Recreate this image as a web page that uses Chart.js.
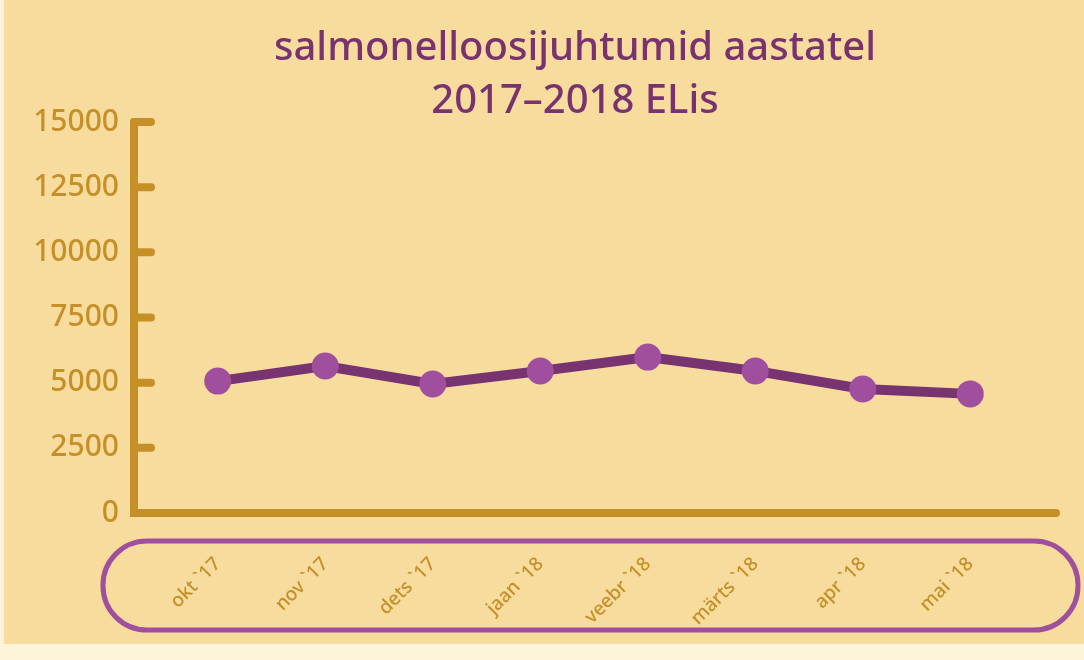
<!DOCTYPE html>
<html>
<head>
<meta charset="utf-8">
<script src="https://cdn.jsdelivr.net/npm/chart.js@4"></script>
<style>
  html, body { margin: 0; padding: 0; background: #fef4da; }
  #panel { position: absolute; left: 4px; top: 0; width: 1080px; height: 644px; background: #f7dc9e; }
  canvas { display: block; }
</style>
</head>
<body>
<div id="panel"><canvas id="chart" width="1080" height="644"></canvas></div>
<script>
// Data
const categories = ["okt `17", "nov `17", "dets `17", "jaan `18", "veebr `18", "märts `18", "apr `18", "mai `18"];
const cases = [5060, 5640, 4950, 5450, 5980, 5450, 4760, 4570];
const yMin = 0;
const yMax = 15000;
const yStep = 2500;
const titleLines = ["salmonelloosijuhtumid aastatel", "2017–2018 ELis"];

const gold = "#c59028";
const purpleDark = "#783470";
const purple = "#a04e9e";

// Axes, ticks, label box and title drawn by hand (rounded caps)
const decor = {
  id: "decor",
  beforeDatasetsDraw(chart) {
    const { ctx, scales } = chart;
    const axisX = 130;
    const y = scales.y;
    ctx.save();
    ctx.lineCap = "round";
    ctx.strokeStyle = gold;
    ctx.lineWidth = 8;
    // y axis + x axis
    ctx.beginPath();
    ctx.moveTo(axisX, y.getPixelForValue(yMax));
    ctx.lineTo(axisX, y.getPixelForValue(yMin));
    ctx.lineTo(1052, y.getPixelForValue(yMin));
    ctx.stroke();
    // tick marks
    for (let v = yStep; v <= yMax; v += yStep) {
      const py = y.getPixelForValue(v);
      ctx.beginPath();
      ctx.moveTo(axisX, py);
      ctx.lineTo(147, py);
      ctx.stroke();
    }
    ctx.restore();
  },
  beforeDraw(chart) {
    const { ctx } = chart;
    ctx.save();
    // rounded box round the month labels
    ctx.strokeStyle = purple;
    ctx.lineWidth = 5;
    ctx.beginPath();
    ctx.roundRect(99, 541, 975, 89, 44);
    ctx.stroke();
    // title
    ctx.fillStyle = "#78326e";
    ctx.font = "500 40px 'Noto Sans'";
    ctx.textAlign = "center";
    ctx.textBaseline = "alphabetic";
    ctx.fillText(titleLines[0], 571, 60);
    ctx.fillText(titleLines[1], 571, 113);
    ctx.restore();
  }
};

new Chart(document.getElementById("chart"), {
  type: "line",
  data: {
    labels: categories,
    datasets: [{
      data: cases,
      borderColor: purpleDark,
      borderWidth: 10,
      pointBackgroundColor: purple,
      pointBorderWidth: 0,
      pointRadius: 13.5,
      tension: 0
    }]
  },
  options: {
    responsive: false,
    animation: false,
    layout: { padding: { left: 0, right: 60, top: 122, bottom: 0 } },
    plugins: { legend: { display: false }, tooltip: { enabled: false }, title: { display: false } },
    scales: {
      x: {
        offset: true,
        grid: { display: false, drawTicks: false },
        border: { display: false },
        afterFit: s => { s.height = 131; },
        ticks: {
          color: gold,
          font: { family: "'Noto Sans'", size: 19, weight: 500 },
          minRotation: 45,
          maxRotation: 45,
          autoSkip: false,
          padding: 40
        }
      },
      y: {
        min: yMin,
        max: yMax,
        grid: { display: false, drawTicks: false },
        border: { display: false },
        afterFit: s => { s.width = 160; },
        ticks: {
          stepSize: yStep,
          color: gold,
          font: { family: "'Noto Sans'", size: 30, weight: 500 },
          padding: 45,
          callback: v => String(v)
        }
      }
    }
  },
  plugins: [decor]
});
</script>
</body>
</html>
